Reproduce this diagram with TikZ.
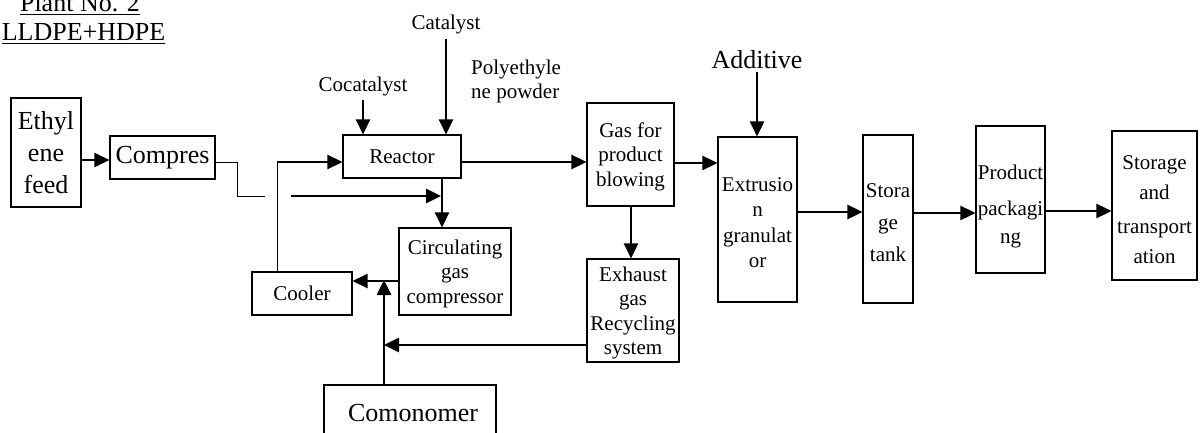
\documentclass[tikz,border=0pt]{standalone}
\usepackage{fontspec}
\setmainfont{Liberation Serif}
\usetikzlibrary{arrows.meta}
\newcommand\fsA{\fontsize{21}{24.5}\selectfont}
\newcommand\fsB{\fontsize{26}{32}\selectfont}
\newcommand\ulx[1]{\leavevmode\setbox0=\hbox{#1}\rlap{\rule[-3.2pt]{\wd0}{1.5pt}}\box0}
\tikzset{
  box/.style={draw, line width=1.1pt, inner sep=0pt, align=center, font=\fsA},
  mbox/.style={box, text depth=0pt},
  lbl/.style={inner sep=1pt, font=\fsA},
  arr/.style={line width=2.6pt, -{Triangle[length=15pt,width=14pt]}},
  thinline/.style={line width=1pt}
}
\begin{document}
\begin{tikzpicture}[x=1pt,y=-1pt]
\useasboundingbox (0,0) rectangle (1201,433);
% title
\node[lbl, font=\fsB, anchor=base] (t1) at (80,12) {\ulx{Plant No. 2}};
\node[lbl, font=\fsB, anchor=base] (t2) at (83.5,41) {\ulx{LLDPE+HDPE}};
% boxes
\node[box, font=\fsB, minimum width=70pt, minimum height=109pt] (eth) at (46,152.5) {Ethyl\\ene\\feed};
\node[box, font=\fsB, minimum width=105pt, minimum height=43pt] (comp) at (162.5,157.5) {Compres};
\node[box, minimum width=118pt, minimum height=43pt] (reactor) at (402,156.5) {Reactor};
\node[mbox, minimum width=87pt, minimum height=103pt] (gas) at (630.5,154.5) {Gas for\\product\\blowing};
\node[mbox, minimum width=112pt, minimum height=87pt] (circ) at (455,271.5) {Circulating\\gas\\compressor};
\node[box, minimum width=100pt, minimum height=43pt] (cooler) at (302,293.5) {Cooler};
\node[box, font=\fsB, minimum width=172pt, minimum height=70pt, text depth=0pt] (comon) at (410,420) {};
\node[lbl, font=\fsB, anchor=base] (comontxt) at (413,421) {Comonomer};
\node[mbox, minimum width=92pt, minimum height=103pt] (exh) at (633,310.5) {Exhaust\\gas\\Recycling\\system};
\node[mbox, minimum width=79pt, minimum height=165pt, font=\fontsize{21}{25.5}\selectfont] (extr) at (757.5,219.5) {\rule{0pt}{19.5pt}Extrusio\\n\\granulat\\or};
\node[mbox, minimum width=50pt, minimum height=168pt] (tank) at (888,219) {\rule{0pt}{20pt}Stora\\[7.5pt]ge\\[7.5pt]tank};
\node[mbox, minimum width=69pt, minimum height=147pt] (pack) at (1010.5,199.5) {\rule{0pt}{24pt}Product\\[11pt]packagi\\[3.5pt]ng};
\node[mbox, minimum width=85pt, minimum height=149pt] (st) at (1154.5,205.5) {\rule{0pt}{22pt}Storage\\[5.5pt]and\\[9.5pt]transport\\[5.5pt]ation};
% labels
\node[lbl, anchor=base] (cat) at (446,30) {Catalyst};
\node[lbl, anchor=base] (cocat) at (363,92) {Cocatalyst};
\node[lbl, anchor=base west, align=left, font=\fontsize{21}{24}\selectfont] (pep) at (470,99) {Polyethyle\\ne powder};
\node[lbl, font=\fsB, anchor=base] (add) at (757,69) {Additive};
% junction coordinates
\coordinate (j1) at (237,162);
\coordinate (j2) at (237,196);
\coordinate (stub) at (265,196);
\coordinate (cr) at (277,162);
\coordinate (rin) at (291,196);
\coordinate (rc) at (442,196);
\coordinate (jc) at (384,281);
\coordinate (jx) at (384,345);
% connectors
\draw[arr] (eth.east |- 0,160) -- (comp.west |- 0,160);
\draw[thinline] (comp.east |- j1) -- (j1) -- (j2) -- (stub);
\draw[thinline] (cooler.north -| cr) -- ([yshift=1.3pt]cr);
\draw[arr] ([xshift=-0.5pt]cr) -- (reactor.west |- cr);
\draw[arr] (rin) -- ([xshift=-1pt]rc);
\draw[arr] (reactor.south -| rc) -- (circ.north -| rc);
\draw[arr] ([yshift=-2pt]cocat.south) -- (reactor.north -| cocat.south);
\draw[arr] ([yshift=-3pt]cat.south) -- (reactor.north -| cat.south);
\draw[arr] (reactor.east |- 0,162) -- (gas.west |- 0,162);
\draw[arr] (gas.east |- 0,163) -- (extr.west |- 0,163);
\draw[arr] ([yshift=-2pt]add.south) -- (extr.north -| add.south);
\draw[arr] (gas.south -| 631,0) -- (exh.north -| 631,0);
\draw[arr] (circ.west |- jc) -- (cooler.east |- jc);
\draw[arr] (comon.north -| jc) -- ([yshift=1pt]jc);
\draw[arr] (exh.west |- jx) -- (jx);
\draw[arr] (extr.east |- 0,212) -- (tank.west |- 0,212);
\draw[arr] (tank.east |- 0,213) -- (pack.west |- 0,213);
\draw[arr] (pack.east |- 0,211) -- (st.west |- 0,211);
\end{tikzpicture}
\end{document}
